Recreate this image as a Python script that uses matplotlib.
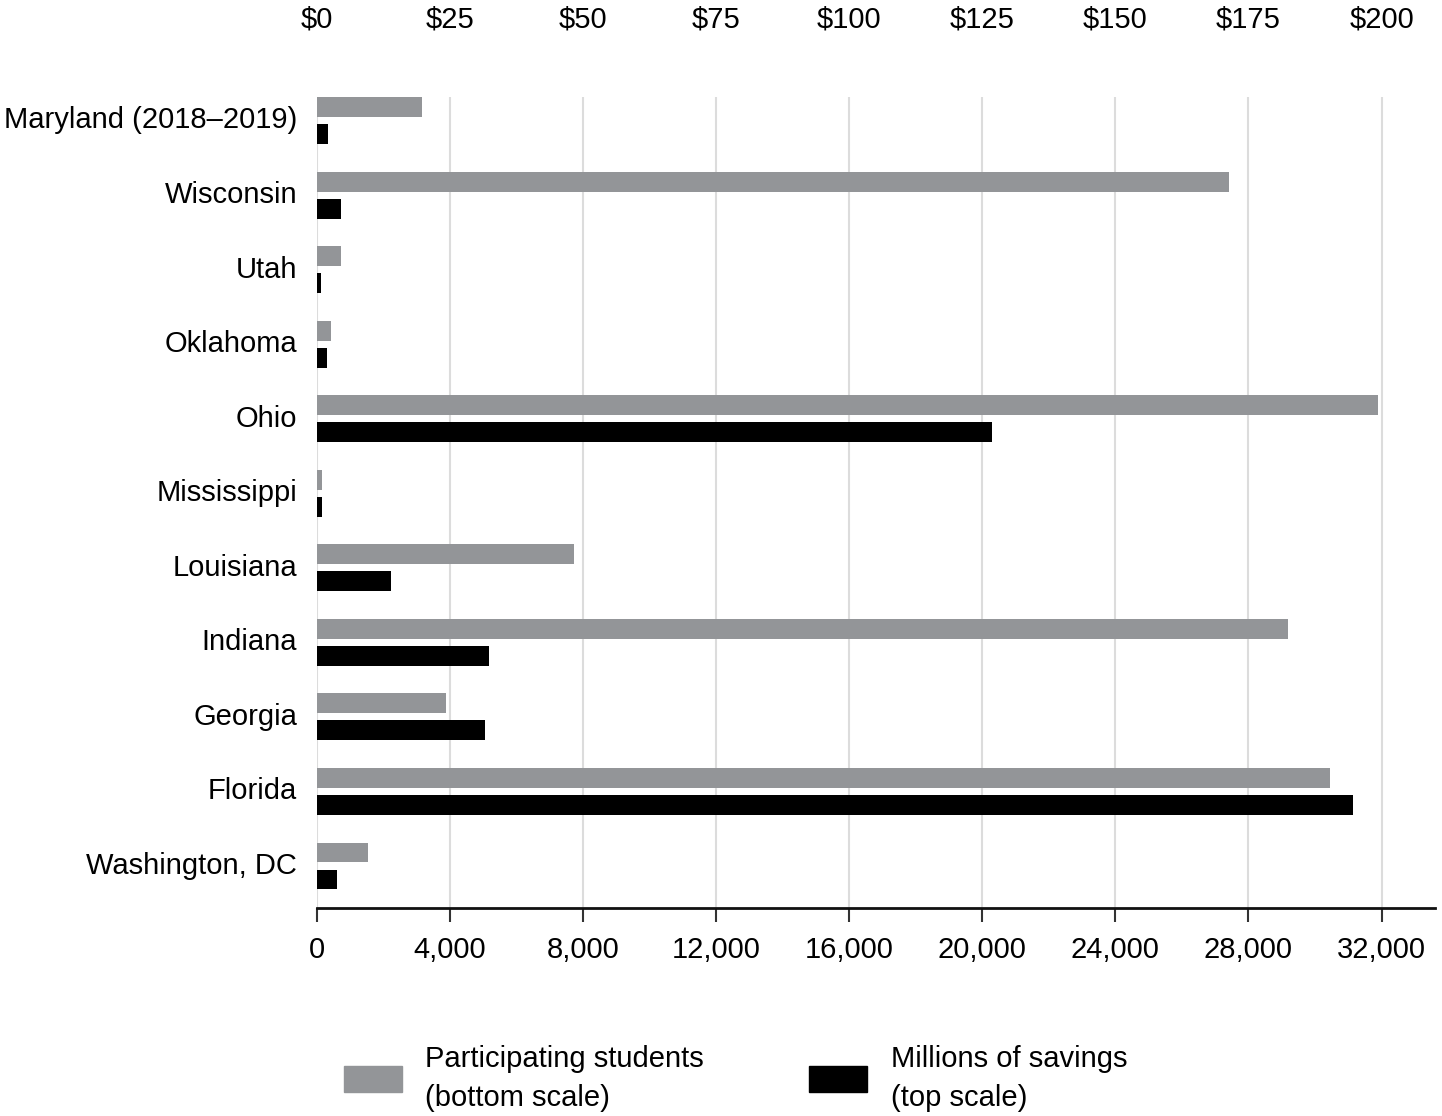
import matplotlib.pyplot as plt
from matplotlib.patches import Patch
import numpy as np

plt.rcParams['font.family'] = ['Liberation Sans', 'DejaVu Sans']

states = ['Maryland (2018\u20132019)', 'Wisconsin', 'Utah', 'Oklahoma', 'Ohio',
          'Mississippi', 'Louisiana', 'Indiana', 'Georgia', 'Florida',
          'Washington, DC']
students = [3170, 27430, 740, 440, 31880, 170, 7730, 29200, 3890, 30440, 1550]
savings = [2.2, 4.6, 0.8, 2.0, 126.8, 1.0, 14.0, 32.4, 31.6, 194.6, 3.8]

bottom_ticks = [0, 4000, 8000, 12000, 16000, 20000, 24000, 28000, 32000]
top_ticks = [0, 25, 50, 75, 100, 125, 150, 175, 200]

GRAY = '#939598'
BLACK = '#000000'

fig = plt.figure(figsize=(14.42, 11.16), dpi=100)
ax = fig.add_axes([0.2195, 0.1864, 0.7755, 0.7267])
ax2 = ax.twiny()

y = np.arange(len(states))
h = 0.268
off = 0.181

ax.barh(y - off, students, height=h, color=GRAY, zorder=3)
ax2.barh(y + off, savings, height=h, color=BLACK, zorder=3)

ax.set_xlim(0, 33600)
ax2.set_xlim(0, 210)
ax.set_ylim(10.563, -0.315)

ax.set_xticks(bottom_ticks)
ax.set_xticklabels([f'{t:,}' for t in bottom_ticks], fontsize=21)
ax.set_yticks(y)
ax.set_yticklabels(states, fontsize=21, va='center')
for lbl in ax.get_yticklabels():
    lbl.set_y(lbl.get_position()[1])
ax.tick_params(axis='y', length=0, pad=14)
ax.tick_params(axis='x', length=10, width=1.5, color='#333333', pad=10)
ax.grid(axis='x', color='#dcdcdc', linewidth=1.5, zorder=0)

ax2.set_xticks(top_ticks)
ax2.set_xticklabels([f'${t}' for t in top_ticks], fontsize=21)
ax2.tick_params(axis='x', length=0, pad=46)

for a in (ax, ax2):
    for s in ('top', 'left', 'right'):
        a.spines[s].set_visible(False)
ax2.spines['bottom'].set_visible(False)
ax.spines['bottom'].set_linewidth(2)
ax.spines['bottom'].set_color('#111111')

handles = [Patch(color=GRAY), Patch(color=BLACK)]
labels = ['Participating students\n(bottom scale)', 'Millions of savings\n(top scale)']
leg = fig.legend(handles, labels, loc='center', bbox_to_anchor=(0.51, 0.034), ncol=2,
                 frameon=False, fontsize=21, handlelength=2.0, handleheight=1.0,
                 handletextpad=0.8, columnspacing=3.6)
for t in leg.get_texts():
    t.set_linespacing(1.5)

fig.savefig('out.png', dpi=100)
